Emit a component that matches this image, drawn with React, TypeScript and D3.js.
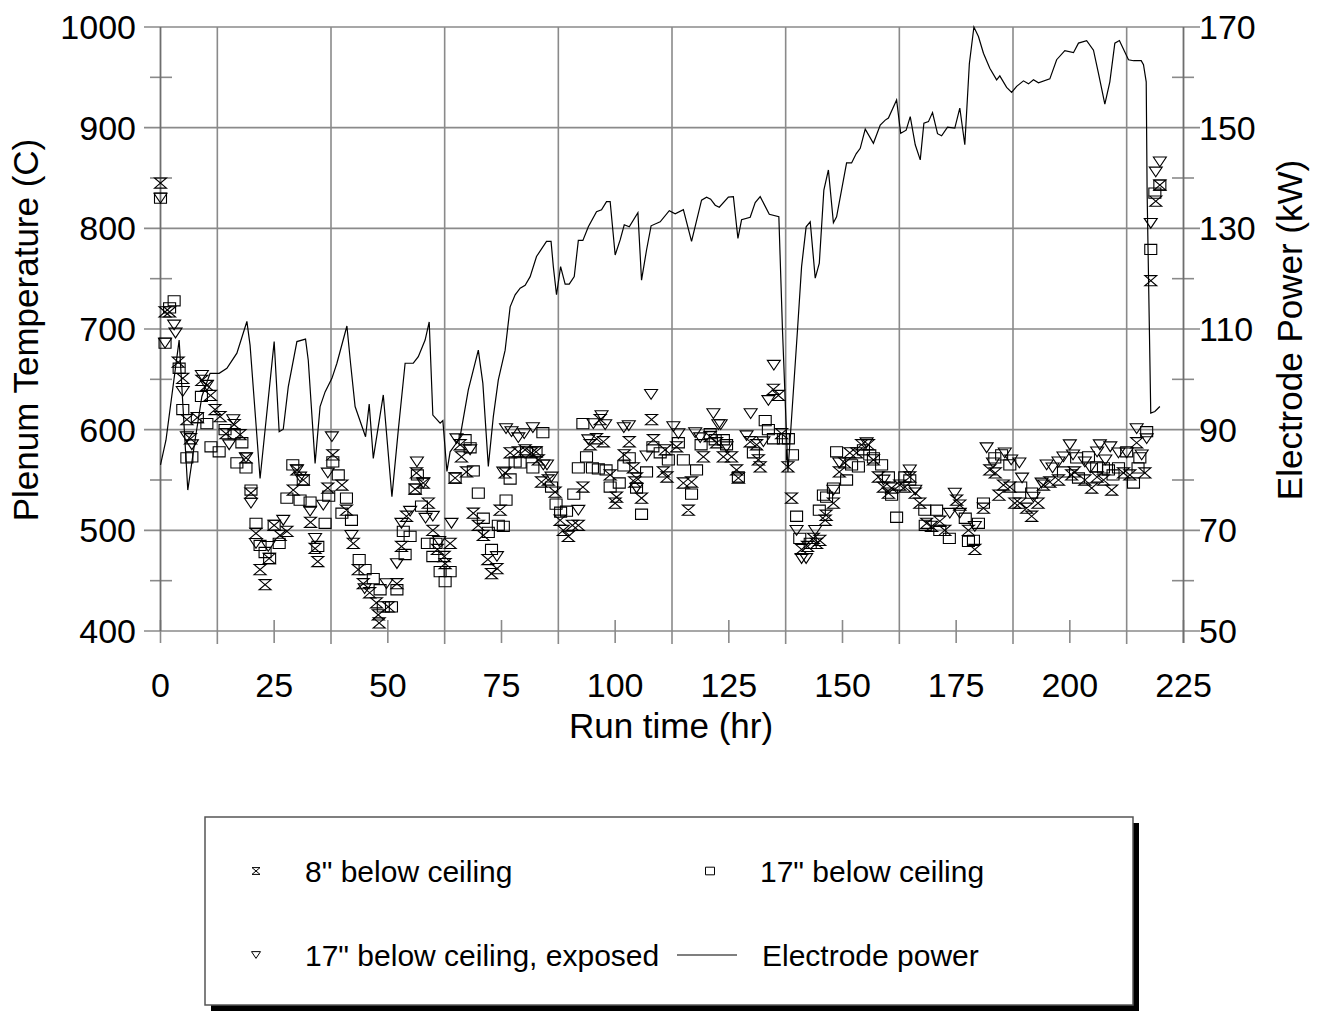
import React from "react";
import * as d3 from "d3";

// Electrode power (hr, kW)
const power: [number, number][] = [[0,83.0],[1.2,87.9],[4.1,107.8],[6.0,78.0],[7.6,87.9],[9.1,96.6],[10.9,101.2],[12.9,101.2],[14.6,102.2],[16.8,105.2],[19.0,111.5],[19.7,106.8],[21.9,80.3],[25.0,107.5],[26.1,89.6],[27.0,90.1],[28.1,98.5],[30.0,107.5],[31.9,108.0],[32.5,103.8],[34.0,83.3],[35.1,94.6],[36.2,97.5],[37.7,100.2],[38.8,103.2],[41.0,110.6],[41.8,103.2],[42.8,94.6],[45.1,88.6],[45.9,95.1],[46.8,84.3],[49.0,96.9],[50.9,76.7],[52.3,89.9],[53.8,103.2],[55.6,103.2],[56.7,104.5],[58.2,107.8],[59.1,111.4],[59.9,92.9],[61.5,91.3],[62.1,91.8],[63.0,81.7],[63.7,85.6],[64.8,87.0],[65.9,88.6],[67.7,97.9],[69.9,105.8],[70.9,99.2],[72.1,82.7],[73.2,92.6],[74.3,99.9],[75.8,105.8],[76.9,114.4],[78.0,116.8],[79.1,118.1],[80.2,118.7],[81.3,120.4],[82.7,124.4],[84.9,127.4],[85.9,127.4],[86.4,122.4],[87.1,116.8],[88.0,122.4],[89.0,118.9],[89.9,118.9],[91.0,120.4],[91.9,127.6],[92.9,127.6],[94.1,130.3],[95.9,133.3],[97.0,133.7],[98.1,135.3],[98.9,135.3],[100.0,124.7],[101.1,127.7],[102.0,130.7],[103.1,130.3],[105.0,133.1],[105.8,119.7],[106.9,125.7],[107.9,130.5],[109.9,131.3],[111.9,133.5],[113.2,132.9],[115.0,133.7],[116.8,127.4],[119.0,135.6],[120.1,136.2],[121.0,135.8],[122.0,134.6],[122.9,134.2],[124.9,136.2],[126.0,136.3],[127.0,128.0],[127.8,131.7],[129.7,132.2],[130.8,135.1],[131.9,136.3],[133.9,132.8],[136.0,132.3],[136.8,109.8],[138.0,81.6],[140.1,109.8],[141.0,122.4],[142.0,130.3],[142.9,131.3],[144.0,120.1],[144.9,123.1],[145.9,137.6],[146.9,141.6],[148.0,131.1],[148.7,132.3],[150.9,143.0],[152.0,143.0],[153.0,144.8],[153.9,145.9],[155.0,149.7],[156.8,146.9],[158.3,150.5],[159.4,151.5],[160.1,151.9],[161.9,155.5],[162.8,148.9],[164.0,149.5],[164.9,152.2],[166.0,146.6],[167.1,143.6],[167.9,150.9],[168.9,151.2],[169.8,153.0],[170.9,148.8],[171.8,148.4],[173.1,150.1],[174.7,149.9],[175.8,153.9],[176.9,146.6],[177.9,162.7],[178.9,170.0],[179.9,168.1],[181.0,164.8],[182.4,161.8],[183.9,159.5],[184.6,160.3],[186.1,158.0],[187.2,157.0],[188.3,158.2],[189.8,159.3],[190.9,158.7],[192.0,159.5],[193.1,158.9],[195.6,159.7],[197.1,163.5],[198.9,165.3],[200.8,164.9],[201.9,166.8],[203.7,167.3],[205.2,165.4],[206.3,160.8],[207.7,154.7],[208.8,159.1],[209.9,166.8],[210.9,167.3],[212.9,163.5],[214.0,163.3],[215.7,163.3],[216.2,162.5],[216.8,159.1],[217.0,137.0],[217.8,93.3],[218.7,93.6],[219.8,94.6]];

// 8" below ceiling (hr, C)
const below8: [number, number][] = [[0,845],[1.0,717],[2.0,717],[3.9,667],[4.9,651],[5.8,610],[6.6,591],[8.1,612],[9.1,649],[10.2,644],[11.0,634],[12.0,620],[13.1,613],[14.4,596],[16.2,605],[17.5,595],[18.8,572],[19.9,537],[21.0,497],[21.9,461],[23.0,446],[23.9,472],[25.0,505],[26.3,495],[27.8,499],[29.2,540],[30.0,560],[31.4,550],[33.0,508],[34.0,482],[34.6,469],[36.8,542],[37.9,575],[39.9,545],[40.9,520],[42.4,487],[43.5,461],[44.6,447],[46.0,438],[47.5,428],[47.9,416],[48.1,408],[50.1,424],[52.0,447],[53.0,484],[54.1,514],[56.0,541],[56.3,557],[57.8,547],[58.9,527],[59.9,500],[60.9,481],[62.4,474],[62.6,467],[63.7,487],[64.8,552],[65.9,585],[66.2,573],[67.3,558],[68.8,517],[69.9,505],[71.0,495],[72.0,471],[72.8,457],[74.0,462],[74.7,520],[75.8,557],[76.9,577],[78.7,578],[80.2,580],[81.6,577],[82.6,578],[83.1,570],[83.8,548],[85.3,550],[86.8,538],[87.9,510],[88.6,500],[89.7,494],[90.6,505],[91.9,505],[92.9,543],[94.5,585],[95.9,591],[96.7,610],[97.4,588],[98.9,555],[100.0,527],[100.3,533],[102.0,575],[103.1,588],[104.0,562],[104.3,548],[104.7,552],[105.8,532],[108.0,610],[108.4,590],[110.6,558],[111.0,580],[111.4,553],[113.5,583],[115.0,547],[116.1,520],[116.8,548],[119.4,573],[120.9,593],[122.3,587],[123.8,573],[125.6,573],[126.7,560],[127.1,552],[129.7,588],[131.1,585],[131.5,570],[131.9,563],[134.8,640],[135.9,634],[136.6,596],[138.0,563],[138.8,532],[141.0,481],[142.3,484],[143.6,492],[144.3,487],[145.0,490],[146.2,510],[146.4,515],[148.0,527],[149.3,558],[150.5,567],[151.6,577],[153.1,577],[154.2,585],[155.7,585],[156.8,570],[157.9,553],[159.0,543],[160.1,537],[160.8,542],[162.6,545],[163.7,543],[164.8,553],[166.0,537],[167.0,527],[168.5,507],[169.6,504],[171.4,509],[172.5,500],[175.1,530],[175.8,525],[177.7,500],[179.1,481],[181.0,522],[182.4,560],[183.6,557],[184.4,535],[185.4,545],[186.8,543],[187.9,527],[189.0,527],[190.5,522],[191.6,514],[193.0,527],[194.2,545],[195.6,548],[197.5,550],[200.4,555],[201.0,558],[203.3,550],[204.8,542],[206.0,553],[207.4,550],[209.2,540],[211.8,557],[213.2,555],[214.7,587],[216.5,557],[217.8,748],[218.9,827],[219.8,843]];

// 17" below ceiling (hr, C)
const below17: [number, number][] = [[0,830],[1.0,686],[2.0,721],[3.0,728],[4.1,661],[4.9,620],[5.8,572],[6.9,573],[8.1,612],[9.0,633],[10.2,606],[11.1,583],[12.9,578],[14.2,600],[16.2,596],[16.8,567],[17.9,587],[18.8,562],[19.9,540],[21.0,507],[21.9,485],[23.0,478],[24.0,472],[25.0,505],[26.1,487],[27.8,532],[29.1,565],[30.7,530],[31.4,550],[32.9,528],[34.6,484],[36.2,507],[37.0,534],[37.9,568],[39.1,555],[39.9,517],[40.9,532],[42.0,510],[43.7,471],[45.0,461],[46.8,452],[48.3,441],[49.0,424],[50.8,424],[52.0,441],[53.4,499],[53.8,476],[54.9,494],[56.0,541],[56.5,555],[57.4,524],[58.7,487],[59.9,474],[60.6,487],[61.5,459],[62.6,449],[63.7,459],[64.8,552],[67.0,590],[68.1,582],[68.8,559],[69.9,537],[71.0,512],[72.1,498],[72.8,481],[74.3,505],[75.4,504],[76.0,530],[76.9,551],[78.0,568],[79.1,567],[80.5,578],[81.9,562],[82.6,578],[84.1,597],[86.0,543],[87.0,526],[88.0,518],[89.3,519],[90.9,536],[91.9,562],[92.9,606],[93.7,573],[95.0,562],[96.3,561],[98.0,560],[98.9,543],[100.9,547],[101.9,564],[103.1,572],[104.7,542],[105.8,516],[106.9,558],[108.3,583],[109.9,577],[111.7,570],[113.9,587],[115.0,570],[116.8,536],[117.9,560],[118.9,585],[120.9,596],[122.0,590],[123.8,590],[124.5,585],[127.1,553],[130.4,577],[133.0,609],[133.7,600],[134.8,591],[137.0,591],[138.1,591],[139.0,575],[139.9,514],[140.6,492],[142.9,487],[144.9,520],[145.8,535],[146.5,533],[148.0,542],[148.7,578],[150.9,550],[152.0,565],[153.5,563],[154.6,580],[156.0,575],[156.8,572],[158.6,565],[160.1,553],[160.8,535],[161.9,513],[163.7,553],[164.8,550],[168.1,520],[168.2,505],[170.7,520],[171.4,500],[173.5,492],[177.0,512],[177.7,489],[178.8,490],[179.9,507],[181.0,527],[183.5,572],[185.0,575],[186.8,565],[189.2,543],[191.6,537],[198.6,558],[201.5,572],[201.9,552],[204.1,573],[205.9,563],[207.4,562],[208.5,560],[209.5,555],[210.7,562],[212.5,578],[214.0,547],[215.0,562],[215.4,572],[216.9,598],[217.8,779],[218.7,835],[219.8,843]];

// 17" below ceiling, exposed (hr, C)
const exposed17: [number, number][] = [[0,830],[1.0,686],[3.0,704],[3.3,696],[4.9,638],[5.8,593],[6.9,585],[9.1,654],[10.2,644],[15.1,585],[16.0,610],[18.8,572],[19.9,527],[21.0,487],[23.7,484],[27.0,510],[30.0,560],[30.7,553],[32.9,519],[34.0,492],[35.8,525],[36.8,557],[37.7,593],[42.0,495],[44.9,442],[49.7,447],[52.0,467],[53.0,507],[54.9,519],[56.4,568],[57.8,547],[58.3,512],[59.9,514],[61.3,489],[64.0,507],[65.1,591],[68.1,580],[74.0,474],[75.4,558],[76.0,601],[77.2,598],[78.7,592],[80.0,596],[81.9,602],[84.2,565],[85.0,565],[86.0,553],[91.9,520],[94.1,590],[95.2,606],[97.0,614],[97.8,605],[101.9,602],[103.0,604],[104.7,542],[106.9,574],[107.9,635],[112.8,603],[113.9,596],[117.6,597],[118.7,592],[121.6,616],[122.7,605],[123.2,605],[124.5,583],[128.9,594],[129.8,616],[132.6,588],[133.7,629],[134.9,664],[139.9,500],[141.0,472],[142.0,472],[144.0,500],[148.0,540],[149.3,567],[155.3,587],[159.0,550],[164.8,560],[166.0,540],[173.6,517],[174.7,537],[175.8,517],[179.1,504],[181.7,582],[183.1,567],[185.7,577],[187.1,570],[188.9,567],[189.5,552],[192.0,533],[193.8,547],[194.9,565],[196.2,562],[197.5,568],[198.6,573],[200.0,585],[200.7,575],[203.3,568],[204.5,562],[206.0,578],[206.6,585],[207.8,570],[208.9,583],[210.7,577],[212.5,577],[214.7,601],[215.8,575],[216.9,591],[217.8,805],[218.9,856],[219.8,866]];

const xTicks = [0, 25, 50, 75, 100, 125, 150, 175, 200, 225];
const xGrid = [12.5, 37.5, 62.5, 87.5, 112.5, 137.5, 162.5, 187.5, 212.5];
const leftTicks = [400, 500, 600, 700, 800, 900, 1000];
const leftMinor = [450, 550, 650, 750, 850, 950];
const rightTicks = [50, 70, 90, 110, 130, 150, 170];
const rightMinor = [60, 80, 100, 120, 140, 160];

const FONT = "'Liberation Sans', Arial, Helvetica, sans-serif";

const hourglass = (s: number) => `M${-s},${-s * 0.85}H${s}L${-s},${s * 0.85}H${s}Z`;
const square = (s: number) => `M${-s},${-s * 0.85}H${s}V${s * 0.85}H${-s}Z`;
const triangle = (s: number) => `M${-s},${-s * 0.75}H${s}L0,${s * 0.75}Z`;

export default function App() {
  const X0 = 160.5, X1 = 1183.5, Y0 = 631, Y1 = 27;
  const x = d3.scaleLinear().domain([0, 225]).range([X0, X1]);
  const yL = d3.scaleLinear().domain([400, 1000]).range([Y0, Y1]);
  const yR = d3.scaleLinear().domain([50, 170]).range([Y0, Y1]);
  const line = d3.line<[number, number]>().x((d) => x(d[0])).y((d) => yR(d[1]));
  const gridColor = "#8a8a8a";
  const axisColor = "#6e6e6e";

  const markers = (data: [number, number][], shape: string) =>
    data.map((d, i) => (
      <path key={i} d={shape} transform={`translate(${x(d[0])},${yL(d[1])})`} fill="none" stroke="#000" strokeWidth={1.1} />
    ));

  return (
    <svg width={1319} height={1011} style={{ position: "absolute", left: 0, top: 0, background: "#fff" }} fontFamily={FONT}>
      <rect x={0} y={0} width={1319} height={1011} fill="#fff" />
      {/* horizontal gridlines */}
      {leftTicks.map((t) => (
        <line key={"h" + t} x1={144} x2={1200} y1={yL(t)} y2={yL(t)} stroke={gridColor} strokeWidth={1.6} />
      ))}
      {/* vertical gridlines */}
      {xGrid.map((t) => (
        <line key={"v" + t} x1={x(t)} x2={x(t)} y1={Y1} y2={644} stroke={gridColor} strokeWidth={1.6} />
      ))}
      {/* x major ticks */}
      {xTicks.map((t) => (
        <line key={"xt" + t} x1={x(t)} x2={x(t)} y1={620} y2={643} stroke={gridColor} strokeWidth={1.6} />
      ))}
      {/* left minor ticks */}
      {leftMinor.map((t) => (
        <line key={"lm" + t} x1={150} x2={172} y1={yL(t)} y2={yL(t)} stroke={gridColor} strokeWidth={1.6} />
      ))}
      {/* right minor ticks */}
      {rightMinor.map((t) => (
        <line key={"rm" + t} x1={1172} x2={1194} y1={yR(t)} y2={yR(t)} stroke={gridColor} strokeWidth={1.6} />
      ))}
      {/* axes */}
      <line x1={X0} x2={X0} y1={Y1} y2={Y0} stroke={axisColor} strokeWidth={1.8} />
      <line x1={X1} x2={X1} y1={Y1} y2={Y0 + 12} stroke={axisColor} strokeWidth={1.8} />

      {/* markers */}
      {markers(below17, square(6))}
      {markers(exposed17, triangle(6.5))}
      {markers(below8, hourglass(6))}

      {/* power line */}
      <path d={line(power) || ""} fill="none" stroke="#000" strokeWidth={1.2} />

      {/* tick labels */}
      {leftTicks.map((t) => (
        <text key={"ll" + t} x={136} y={yL(t) + 12} fontSize={34} textAnchor="end" fill="#000">{t}</text>
      ))}
      {rightTicks.map((t) => (
        <text key={"rl" + t} x={1199} y={yR(t) + 12} fontSize={34} textAnchor="start" fill="#000">{t}</text>
      ))}
      {xTicks.map((t) => (
        <text key={"xl" + t} x={x(t)} y={697} fontSize={34} textAnchor="middle" fill="#000">{t}</text>
      ))}

      {/* titles */}
      <text x={671} y={738} fontSize={35} textAnchor="middle">Run time (hr)</text>
      <text transform="translate(38,330) rotate(-90)" fontSize={35} textAnchor="middle">Plenum Temperature (C)</text>
      <text transform="translate(1302,330) rotate(-90)" fontSize={35} textAnchor="middle">Electrode Power (kW)</text>

      {/* legend */}
      <rect x={211} y={823} width={928} height={189} fill="#000" />
      <rect x={205} y={817} width={928} height={188} fill="#fff" stroke="#555" strokeWidth={1.5} />
      <path d={hourglass(4)} transform="translate(256,871)" fill="none" stroke="#000" strokeWidth={1} />
      <text x={305} y={882} fontSize={30}>8" below ceiling</text>
      <path d={square(4.5)} transform="translate(710,871)" fill="none" stroke="#000" strokeWidth={1} />
      <text x={760} y={882} fontSize={30}>17" below ceiling</text>
      <path d={triangle(4.5)} transform="translate(256,955)" fill="none" stroke="#000" strokeWidth={1} />
      <text x={305} y={966} fontSize={30}>17" below ceiling, exposed</text>
      <line x1={677} x2={737} y1={955} y2={955} stroke="#000" strokeWidth={1.2} />
      <text x={762} y={966} fontSize={30}>Electrode power</text>
    </svg>
  );
}
